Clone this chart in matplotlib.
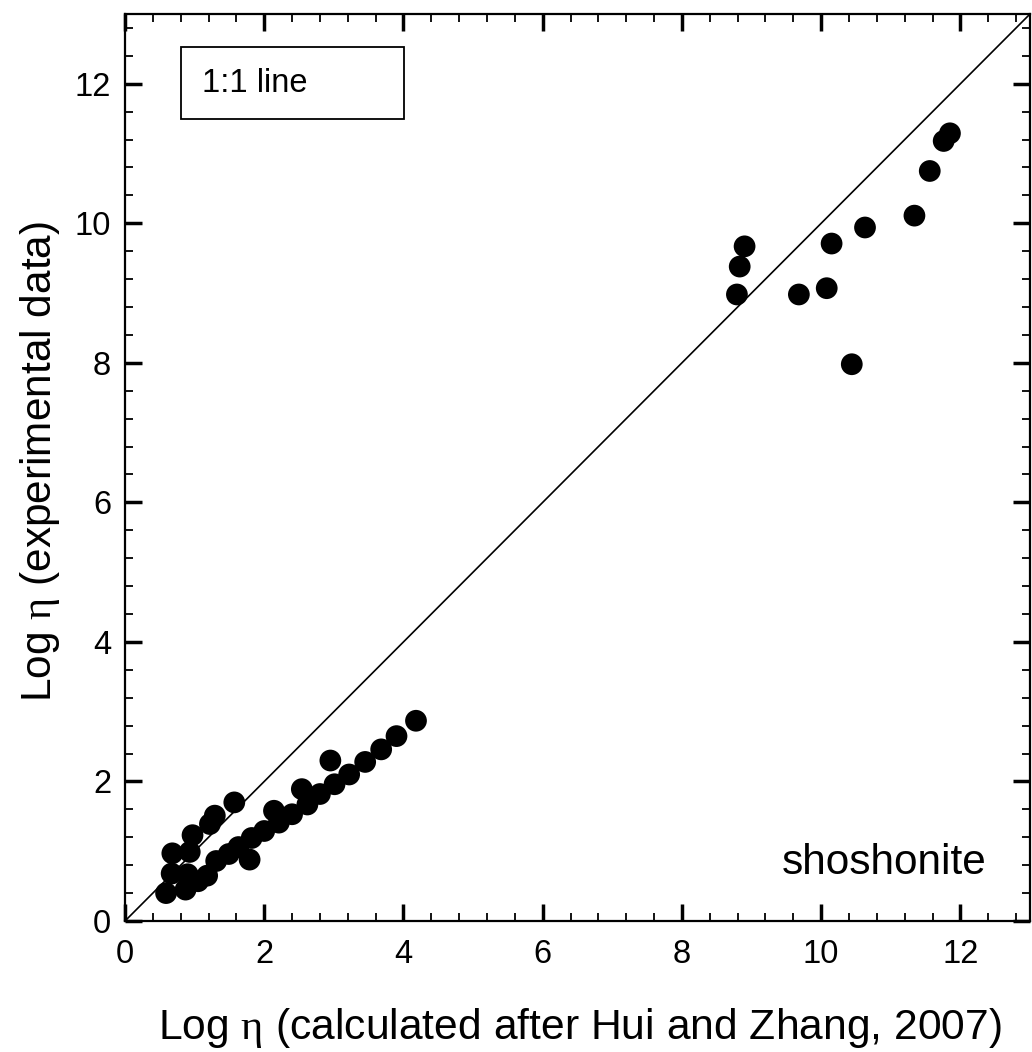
import matplotlib
matplotlib.use("Agg")
import matplotlib.pyplot as plt
from matplotlib.patches import Rectangle
from matplotlib.ticker import MultipleLocator

plt.rcParams['font.family'] = ['Liberation Sans', 'DejaVu Sans']
plt.rcParams['mathtext.fontset'] = 'custom'
plt.rcParams['mathtext.rm'] = 'Liberation Serif'

# Log viscosity: calculated (Hui & Zhang 2007) vs experimental, shoshonite
calc_low = [0.59, 0.67, 0.68, 0.87, 0.90, 0.93, 0.97, 1.05, 1.18, 1.22,
            1.29, 1.31, 1.49, 1.57, 1.63, 1.79, 1.82, 2.00, 2.14, 2.21,
            2.40, 2.54, 2.62, 2.80, 3.01, 2.95, 3.22, 3.45, 3.68, 3.90, 4.18]
exp_low = [0.40, 0.68, 0.97, 0.45, 0.67, 0.99, 1.23, 0.57, 0.65, 1.39,
           1.51, 0.86, 0.96, 1.70, 1.06, 0.88, 1.19, 1.29, 1.58, 1.41,
           1.53, 1.89, 1.67, 1.82, 1.96, 2.30, 2.10, 2.28, 2.46, 2.65, 2.87]

calc_high = [8.90, 8.83, 8.79, 9.68, 10.08, 10.15, 10.63, 10.44,
             11.34, 11.56, 11.76, 11.85]
exp_high = [9.67, 9.38, 8.98, 8.98, 9.07, 9.71, 9.94, 7.98,
            10.11, 10.75, 11.18, 11.29]

fig = plt.figure(figsize=(10.32, 10.52), dpi=100)
ax = fig.add_axes([125/1032, 1 - 921/1052, 905/1032, 907/1052])

ax.plot([0, 13], [0, 13], color='black', lw=1.2, zorder=1)
ax.scatter(calc_low + calc_high, exp_low + exp_high, s=245, color='black',
           edgecolors='none', zorder=3, clip_on=False)

ax.set_xlim(0, 13)
ax.set_ylim(0, 13)
for axis in (ax.xaxis, ax.yaxis):
    axis.set_major_locator(MultipleLocator(2))
    axis.set_minor_locator(MultipleLocator(0.4))
ax.tick_params(which='both', direction='in', top=True, right=True)
ax.tick_params(which='major', length=12, width=2.5, labelsize=23.5)
ax.tick_params(which='minor', length=6, width=1.3)
ax.tick_params(axis='x', which='major', pad=13)
ax.tick_params(axis='y', which='major', pad=10)
for sp in ax.spines.values():
    sp.set_linewidth(1.6)

# "1:1 line" box
ax.add_patch(Rectangle((0.81, 11.5), 3.2, 1.02, fill=False, edgecolor='black',
                       lw=1.3, zorder=4))
ax.text(1.11, 12.0, "1:1 line", fontsize=23.5, va='center', ha='left', zorder=5)

ax.text(12.38, 0.68, "shoshonite", fontsize=30.5, ha='right', va='baseline')

fig.text(580/1032, 1 - 1039/1052,
         r"Log $\mathrm{\eta}$ (calculated after Hui and Zhang, 2007)",
         fontsize=30.7, ha='center', va='baseline')
fig.text(40/1032, 1 - 462/1052, r"Log $\mathrm{\eta}$ (experimental data)",
         fontsize=30.5, ha='center', va='center', rotation=90)

fig.savefig("out.png", dpi=100)
